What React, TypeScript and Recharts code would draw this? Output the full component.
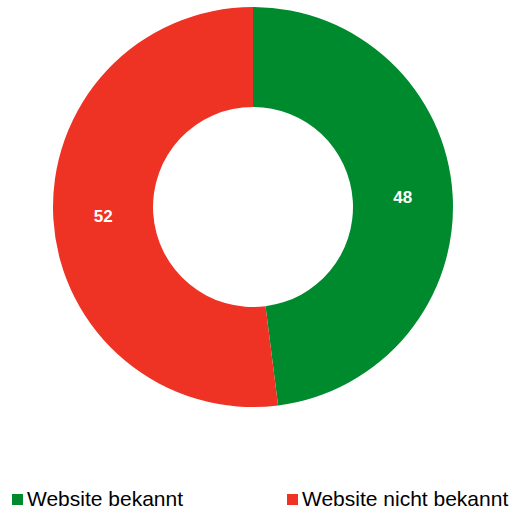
import React from "react";
import { PieChart, Pie, Cell, Legend } from "recharts";

const categories = ["Website bekannt", "Website nicht bekannt"];
const values = [48, 52];
const colors = ["#008A2E", "#EE3224"];

const data = categories.map((name, i) => ({ name, value: values[i] }));

const RADIAN = Math.PI / 180;

const renderLabel = (props: any) => {
  const { cx, cy, midAngle, innerRadius, outerRadius, value } = props;
  const r = (innerRadius + outerRadius) / 2;
  const x = cx + r * Math.cos(-midAngle * RADIAN);
  const y = cy + r * Math.sin(-midAngle * RADIAN);
  return (
    <text
      x={x}
      y={y}
      fill="#FFFFFF"
      textAnchor="middle"
      dominantBaseline="central"
      fontFamily="Liberation Sans, Arial, sans-serif"
      fontWeight="bold"
      fontSize={17}
    >
      {value}
    </text>
  );
};

const legendPos = [12, 287];

const renderLegend = () => (
  <div style={{ position: "relative", width: 514, height: 30 }}>
    {data.map((d, i) => (
      <div
        key={d.name}
        style={{
          position: "absolute",
          left: legendPos[i],
          top: 0,
          display: "flex",
          alignItems: "center",
          fontFamily: "Liberation Sans, Arial, sans-serif",
          fontSize: 21,
          color: "#000000",
          whiteSpace: "nowrap",
        }}
      >
        <span
          style={{
            display: "inline-block",
            width: 11,
            height: 11,
            background: colors[i],
            marginRight: 4,
          }}
        />
        <span>{d.name}</span>
      </div>
    ))}
  </div>
);

export default function App() {
  return (
    <div style={{ position: "absolute", left: 0, top: 0, width: 514, height: 509, background: "#fff" }}>
      <PieChart width={514} height={509} margin={{ top: 0, right: 0, bottom: 0, left: 0 }}>
        <Pie
          data={data}
          dataKey="value"
          nameKey="name"
          cx={253}
          cy={207}
          innerRadius={100}
          outerRadius={200}
          startAngle={90}
          endAngle={-270}
          stroke="none"
          label={renderLabel}
          labelLine={false}
          isAnimationActive={false}
        >
          {data.map((d, i) => (
            <Cell key={d.name} fill={colors[i]} />
          ))}
        </Pie>
        <Legend
          content={renderLegend}
          verticalAlign="bottom"
          wrapperStyle={{ position: "absolute", left: 0, top: 487, width: 514, height: 30 }}
        />
      </PieChart>
    </div>
  );
}
